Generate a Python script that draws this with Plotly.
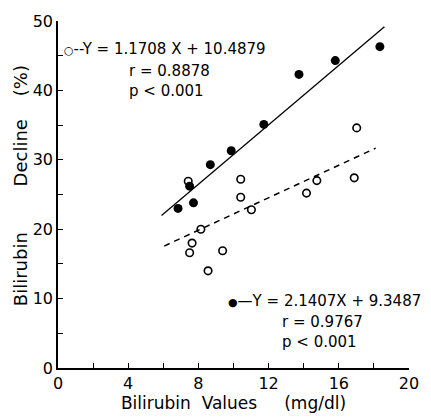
import plotly.graph_objects as go

# Data
filled_x = [6.84, 7.72, 7.50, 8.68, 9.87, 11.73, 13.73, 15.80, 18.34]
filled_y = [23.0, 23.8, 26.2, 29.3, 31.3, 35.1, 42.3, 44.3, 46.3]

open_x = [7.42, 10.41, 10.41, 11.02, 8.14, 7.64, 7.50, 9.38, 8.55, 14.16, 14.75, 16.88, 17.02]
open_y = [26.9, 27.2, 24.6, 22.8, 20.0, 18.0, 16.6, 16.9, 14.0, 25.2, 27.0, 27.4, 34.6]

# Regression lines (slope, intercept, x-range drawn)
fit_filled = (2.1407, 9.3487, [5.9, 18.6])
fit_open = (1.1708, 10.4879, [6.05, 18.1])

x_ticks = [0, 2, 4, 6, 8, 10, 12, 14, 16, 18, 20]
x_tick_labels = ["0", "", "4", "", "8", "", "12", "", "16", "", "20"]
y_ticks = [0, 5, 10, 15, 20, 25, 30, 35, 40, 45, 50]
y_tick_labels = ["0", "", "10", "", "20", "", "30", "", "40", "", "50"]

FONT = "DejaVu Sans, Arial"

fig = go.Figure()

s, b, xr = fit_filled
fig.add_trace(go.Scatter(x=xr, y=[s * v + b for v in xr], mode="lines",
                         line=dict(color="black", width=1.3), hoverinfo="skip"))
s, b, xr = fit_open
fig.add_trace(go.Scatter(x=xr, y=[s * v + b for v in xr], mode="lines",
                         line=dict(color="black", width=1.5, dash="6px,5px"), hoverinfo="skip"))

fig.add_trace(go.Scatter(x=open_x, y=open_y, mode="markers",
                         marker=dict(symbol="circle-open", size=7.5, color="black",
                                     line=dict(width=1.6, color="black"))))
fig.add_trace(go.Scatter(x=filled_x, y=filled_y, mode="markers",
                         marker=dict(symbol="circle", size=9, color="black")))

ann_font = dict(family=FONT, size=15, color="black")
small = '<span style="font-size:11px">{}</span>'
annotations = [
    dict(x=0.2, y=45.9, xref="x", yref="y",
         text=small.format("○") + "--Y = 1.1708 X + 10.4879",
         xanchor="left", yanchor="middle", showarrow=False, font=ann_font),
    dict(x=3.95, y=41.3, xref="x", yref="y", text="r = 0.8878<br>p < 0.001",
         align="left", xanchor="left", yanchor="middle", showarrow=False, font=ann_font),
    dict(x=9.6, y=9.6, xref="x", yref="y",
         text=small.format("●") + "—Y = 2.1407X + 9.3487",
         xanchor="left", yanchor="middle", showarrow=False, font=ann_font),
    dict(x=12.65, y=5.2, xref="x", yref="y", text="r = 0.9767<br>p < 0.001",
         align="left", xanchor="left", yanchor="middle", showarrow=False, font=ann_font),
    dict(x=0, y=0.524, xref="paper", yref="paper", xshift=-38,
         text="Bilirubin        Decline    (%)", textangle=-90, showarrow=False,
         xanchor="center", yanchor="middle", font=dict(family=FONT, size=18, color="black")),
]

fig.update_layout(
    width=431, height=417,
    margin=dict(l=58, r=19, t=18, b=43),
    paper_bgcolor="white", plot_bgcolor="white",
    showlegend=False,
    annotations=annotations,
    xaxis=dict(range=[0, 20], tickvals=x_ticks, ticktext=x_tick_labels,
               ticks="inside", ticklen=5, tickwidth=1.3, tickcolor="black",
               showline=True, linecolor="black", linewidth=1.5,
               showgrid=False, zeroline=False,
               tickfont=dict(family=FONT, size=16, color="black"),
               title=dict(text="Bilirubin  Values     (mg/dl)", standoff=0,
                          font=dict(family=FONT, size=17, color="black"))),
    yaxis=dict(range=[0, 50], tickvals=y_ticks, ticktext=y_tick_labels,
               ticks="inside", ticklen=5, tickwidth=1.3, tickcolor="black",
               showline=True, linecolor="black", linewidth=1.5,
               showgrid=False, zeroline=False,
               tickfont=dict(family=FONT, size=16, color="black")),
)

fig.write_html("out.html")
